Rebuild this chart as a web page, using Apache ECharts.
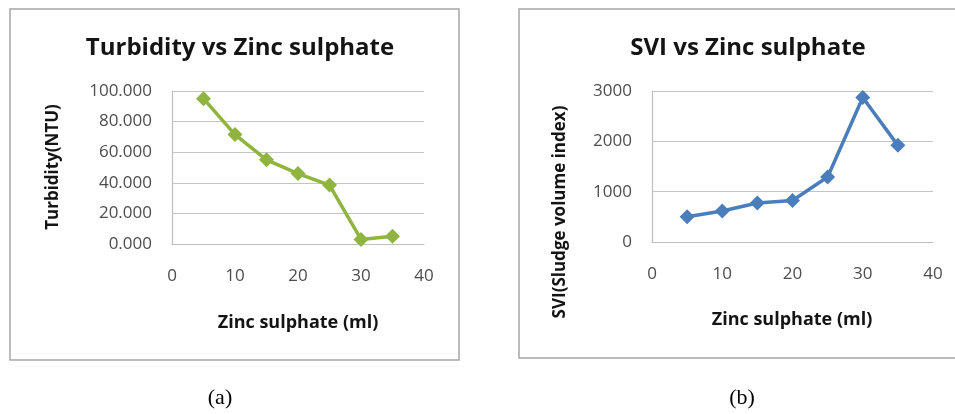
<!DOCTYPE html>
<html>
<head>
<meta charset="utf-8">
<script src="https://cdn.jsdelivr.net/npm/echarts@6/dist/echarts.min.js"></script>
<style>
html,body{margin:0;padding:0;background:#fff;}
#c{width:955px;height:414px;}
</style>
</head>
<body>
<div id="c"></div>
<script>
const zincML = [5, 10, 15, 20, 25, 30, 35];
const turbidity = [95, 71.5, 55, 46, 38.5, 3, 5];
const svi = [500, 615, 775, 825, 1290, 2870, 1920];
const titleA = 'Turbidity vs Zinc sulphate';
const titleB = 'SVI vs Zinc sulphate';
const yNameA = 'Turbidity(NTU)';
const yNameB = 'SVI(Sludge volume index)';
const xName = 'Zinc sulphate (ml)';
const captions = ['(a)', '(b)'];

const FONT = '"Open Sans", "Noto Sans", sans-serif';
const chart = echarts.init(document.getElementById('c'), null, {renderer: 'canvas'});

function xAxisCfg(gi) {
  return {
    type: 'value', gridIndex: gi, min: 0, max: 40, interval: 10,
    axisLine: {show: true, lineStyle: {color: '#bfbfbf', width: 1.2}},
    axisTick: {show: false},
    splitLine: {show: false},
    axisLabel: {color: '#4d4d4d', fontFamily: FONT, fontSize: 17, margin: 24}
  };
}
function yAxisCfg(gi, max, interval, fmt) {
  return {
    type: 'value', gridIndex: gi, min: 0, max: max, interval: interval,
    axisLine: {show: true, lineStyle: {color: '#bfbfbf', width: 1.2}},
    axisTick: {show: false},
    splitLine: {show: true, lineStyle: {color: '#c4c4c4', width: 1.2}},
    axisLabel: {color: '#4d4d4d', fontFamily: FONT, fontSize: 17, margin: 20, formatter: fmt}
  };
}

const option = {
  animation: false,
  backgroundColor: '#fff',
  title: [
    {text: titleA, left: 235, top: 31, textAlign: 'center',
     textStyle: {fontFamily: FONT, fontSize: 24, fontWeight: 'bold', color: '#141414'}},
    {text: titleB, left: 743, top: 31, textAlign: 'center',
     textStyle: {fontFamily: FONT, fontSize: 24, fontWeight: 'bold', color: '#141414'}}
  ],
  grid: [
    {left: 172, top: 91, width: 252, height: 153},
    {left: 652, top: 91, width: 281, height: 151}
  ],
  xAxis: [xAxisCfg(0), xAxisCfg(1)],
  yAxis: [
    yAxisCfg(0, 100, 20, v => v.toFixed(3)),
    yAxisCfg(1, 3000, 1000, v => String(v))
  ],
  series: [
    {type: 'line', xAxisIndex: 0, yAxisIndex: 0,
     data: zincML.map((x, i) => [x, turbidity[i]]),
     symbol: 'diamond', symbolSize: 15,
     lineStyle: {color: '#8fb43f', width: 3.5},
     itemStyle: {color: '#8fb43f'}},
    {type: 'line', xAxisIndex: 1, yAxisIndex: 1,
     data: zincML.map((x, i) => [x, svi[i]]),
     symbol: 'diamond', symbolSize: 15,
     lineStyle: {color: '#4a7ebb', width: 3.5},
     itemStyle: {color: '#4a7ebb'}}
  ],
  graphic: [
    {type: 'rect', shape: {x: 10, y: 9, width: 449, height: 351},
     style: {fill: 'none', stroke: '#a6a6a6', lineWidth: 1.5}, silent: true},
    {type: 'rect', shape: {x: 519, y: 9, width: 450, height: 349},
     style: {fill: 'none', stroke: '#a6a6a6', lineWidth: 1.5}, silent: true},
    {type: 'text', x: 53, y: 167, rotation: Math.PI / 2,
     style: {text: yNameA, fontFamily: FONT, fontSize: 17, fontWeight: 'bold', fill: '#141414',
             align: 'center', verticalAlign: 'middle'}},
    {type: 'text', x: 560, y: 212, rotation: Math.PI / 2,
     style: {text: yNameB, fontFamily: FONT, fontSize: 17, fontWeight: 'bold', fill: '#141414',
             align: 'center', verticalAlign: 'middle'}},
    {type: 'text', x: 298, y: 323,
     style: {text: xName, fontFamily: FONT, fontSize: 18, fontWeight: 'bold', fill: '#141414',
             align: 'center', verticalAlign: 'middle'}},
    {type: 'text', x: 792, y: 320,
     style: {text: xName, fontFamily: FONT, fontSize: 18, fontWeight: 'bold', fill: '#141414',
             align: 'center', verticalAlign: 'middle'}},
    {type: 'text', x: 220, y: 398,
     style: {text: captions[0], fontFamily: '"Liberation Serif", serif', fontSize: 22, fill: '#000',
             align: 'center', verticalAlign: 'middle'}},
    {type: 'text', x: 742, y: 398,
     style: {text: captions[1], fontFamily: '"Liberation Serif", serif', fontSize: 22, fill: '#000',
             align: 'center', verticalAlign: 'middle'}}
  ]
};
chart.setOption(option);
</script>
</body>
</html>
